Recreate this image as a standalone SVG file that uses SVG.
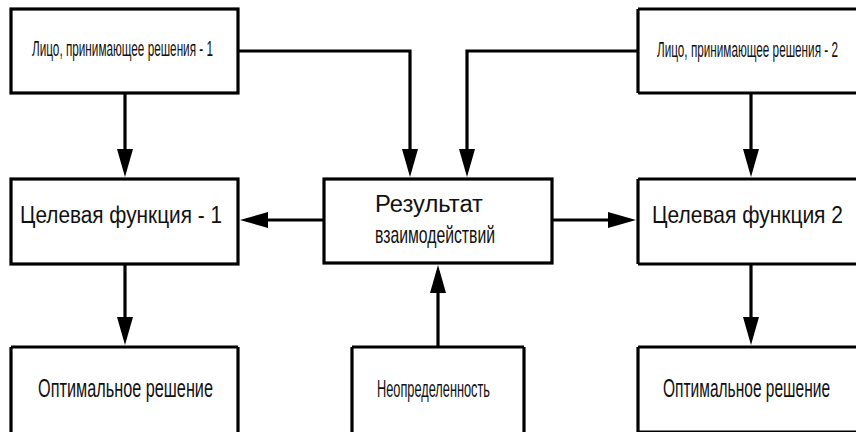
<svg xmlns="http://www.w3.org/2000/svg" width="856" height="432" viewBox="0 0 856 432">
<style>
.box{fill:#fff;stroke:#000;stroke-width:3.2}
.con{fill:none;stroke:#000;stroke-width:3.2;marker-end:url(#ah)}
text{font-family:"Liberation Sans",Arial,sans-serif;fill:#111}
</style>
<defs>
<marker id="ah" markerUnits="userSpaceOnUse" markerWidth="30" markerHeight="18" refX="22" refY="8" orient="auto">
<path d="M0,0 L28,8 L0,16 z" fill="#000"/>
</marker>
</defs>
<rect width="856" height="432" fill="#fff"/>
<g id="connectors">
<path class="con" d="M238,51 H410 V171"/>
<path class="con" d="M638,51 H467 V171"/>
<path class="con" d="M125,93 V171"/>
<path class="con" d="M751,93 V171"/>
<path class="con" d="M324,220 H246"/>
<path class="con" d="M552,220 H630"/>
<path class="con" d="M125,264 V339"/>
<path class="con" d="M751,264 V339"/>
<path class="con" d="M438,347 V271"/>
</g>
<g id="lpr1">
<rect class="box" x="11" y="9" width="227" height="84"/>
<text x="32" y="56" font-size="22" textLength="181" lengthAdjust="spacingAndGlyphs">Лицо, принимающее решения - 1</text>
</g>
<g id="lpr2">
<path class="box" d="M856,9 H638 V93 H856 Z" stroke-dasharray="218 0 84 0 218 0 0 84"/>
<text transform="translate(657,57) scale(0.55,1)" font-size="22" textLength="329" lengthAdjust="spacingAndGlyphs">Лицо, принимающее решения - 2</text>
</g>
<g id="tf1">
<rect class="box" x="11" y="179" width="227" height="85"/>
<text x="20" y="223" font-size="23" textLength="202" lengthAdjust="spacingAndGlyphs">Целевая функция - 1</text>
</g>
<g id="result">
<rect class="box" x="324" y="179" width="228" height="84"/>
<text x="375" y="212" font-size="23" textLength="108" lengthAdjust="spacingAndGlyphs">Результат</text>
<text x="375" y="243" font-size="24" textLength="120" lengthAdjust="spacingAndGlyphs">взаимодействий</text>
</g>
<g id="tf2">
<path class="box" d="M856,179 H638 V264 H856 Z" stroke-dasharray="218 0 85 0 218 0 0 85"/>
<text transform="translate(652,223) scale(0.9,1)" font-size="23" textLength="212.2" lengthAdjust="spacingAndGlyphs">Целевая функция 2</text>
</g>
<g id="opt1">
<path class="box" d="M11,432 V347 H238 V432 Z" stroke-dasharray="85 0 227 0 85 0 0 227"/>
<text x="38" y="397" font-size="26" textLength="175" lengthAdjust="spacingAndGlyphs">Оптимальное решение</text>
</g>
<g id="neop">
<path class="box" d="M352,432 V347 H524 V432 Z" stroke-dasharray="85 0 172 0 85 0 0 172"/>
<text x="377" y="397" font-size="24" textLength="113" lengthAdjust="spacingAndGlyphs">Неопределенность</text>
</g>
<g id="opt2">
<path class="box" d="M856,347 H638 V432 H856 Z" stroke-dasharray="218 0 85 0 218 0 0 85"/>
<text transform="translate(663,397) scale(0.65,1)" font-size="26" textLength="257" lengthAdjust="spacingAndGlyphs">Оптимальное решение</text>
</g>
</svg>
